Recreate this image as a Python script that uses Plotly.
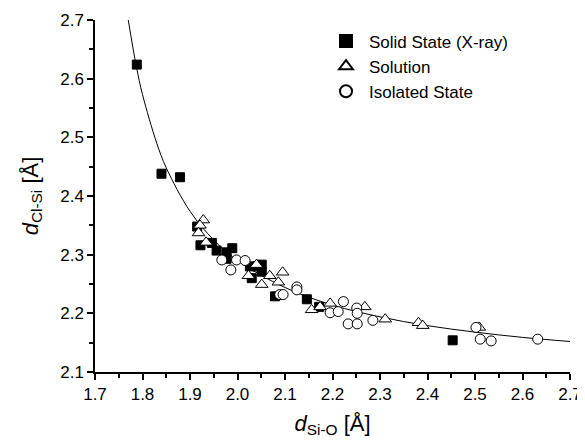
import plotly.graph_objects as go

# Solid State (X-ray)
solid_x = [1.788, 1.840, 1.879, 1.915, 1.922, 1.946, 1.956, 1.977, 1.989, 1.977, 2.026, 2.030,
           2.042, 2.051, 2.051, 2.079, 2.146, 2.172, 2.453]
solid_y = [2.624, 2.438, 2.432, 2.348, 2.316, 2.320, 2.307, 2.304, 2.311, 2.293, 2.280, 2.260,
           2.280, 2.283, 2.271, 2.229, 2.224, 2.211, 2.154]

# Solution
sol_x = [1.928, 1.921, 1.918, 1.934, 2.023, 2.040, 2.051, 2.068, 2.086, 2.095, 2.156, 2.174,
         2.195, 2.268, 2.311, 2.381, 2.390, 2.509]
sol_y = [2.359, 2.350, 2.337, 2.321, 2.264, 2.283, 2.249, 2.264, 2.253, 2.270, 2.206, 2.211,
         2.217, 2.211, 2.190, 2.184, 2.179, 2.176]

# Isolated State
iso_x = [1.967, 1.986, 1.998, 2.016, 2.089, 2.096, 2.125, 2.125, 2.195, 2.212, 2.223, 2.233,
         2.251, 2.252, 2.252, 2.285, 2.502, 2.511, 2.534, 2.632]
iso_y = [2.291, 2.274, 2.291, 2.290, 2.232, 2.232, 2.245, 2.240, 2.201, 2.203, 2.220, 2.182,
         2.209, 2.200, 2.182, 2.188, 2.176, 2.156, 2.153, 2.156]

# Fitted curve
curve_x = [1.770, 1.787, 1.800, 1.830, 1.850, 1.900, 1.950, 2.000, 2.100, 2.200, 2.300, 2.400,
           2.500, 2.600, 2.700]
curve_y = [2.700, 2.621, 2.573, 2.490, 2.448, 2.374, 2.325, 2.290, 2.244, 2.214, 2.194, 2.179,
           2.168, 2.159, 2.152]

x_ticks = [1.7, 1.8, 1.9, 2.0, 2.1, 2.2, 2.3, 2.4, 2.5, 2.6, 2.7]
y_ticks = [2.1, 2.2, 2.3, 2.4, 2.5, 2.6, 2.7]

FONT = "Liberation Sans, Arial, sans-serif"

fig = go.Figure()
fig.add_trace(go.Scatter(x=curve_x, y=curve_y, mode="lines", line=dict(color="black", width=1, shape="spline"),
                         showlegend=False, hoverinfo="skip"))
fig.add_trace(go.Scatter(x=solid_x, y=solid_y, mode="markers", name="Solid State (X-ray)",
                         marker=dict(symbol="square", size=9, color="black", line=dict(color="black", width=1))))
fig.add_trace(go.Scatter(x=sol_x, y=sol_y, mode="markers", name="Solution",
                         marker=dict(symbol="triangle-up", size=11, color="white", line=dict(color="black", width=1))))
fig.add_trace(go.Scatter(x=iso_x, y=iso_y, mode="markers", name="Isolated State",
                         marker=dict(symbol="circle", size=10, color="white", line=dict(color="black", width=1))))

axis_common = dict(showline=True, linecolor="black", linewidth=1.5, ticks="outside", ticklen=6, tickwidth=1.5,
                   tickcolor="black", showgrid=False, zeroline=False, mirror=False, automargin=False,
                   tickfont=dict(family=FONT, size=17, color="black"))

fig.update_xaxes(range=[1.7, 2.7], tickvals=x_ticks, ticktext=[f"{v:.1f}" for v in x_ticks],
                 minor=dict(ticks="outside", ticklen=4, tickwidth=1.5, tickcolor="black", dtick=0.05, tick0=1.7),
                 title=dict(text="<i>d</i><sub>Si-O</sub> [Å]", font=dict(family=FONT, size=22, color="black"), standoff=12),
                 **axis_common)
fig.update_yaxes(range=[2.1, 2.7], tickvals=y_ticks, ticktext=[f"{v:.1f}" for v in y_ticks],
                 minor=dict(ticks="outside", ticklen=4, tickwidth=1.5, tickcolor="black", dtick=0.05, tick0=2.1),
                 title=dict(text="<i>d</i><sub>Cl-Si</sub> [Å]", font=dict(family=FONT, size=22, color="black"), standoff=16),
                 **axis_common)

# page body has an 8px margin, so the figure is sized/offset to compensate
fig.update_layout(width=577, height=437, margin=dict(l=87, r=15, t=12, b=73),
                  plot_bgcolor="white", paper_bgcolor="white",
                  font=dict(family=FONT, color="black"),
                  legend=dict(x=0.48, y=0.99, xanchor="left", yanchor="top", bgcolor="rgba(0,0,0,0)",
                              font=dict(family=FONT, size=17, color="black"), tracegroupgap=0,
                              itemsizing="constant", itemwidth=36))

fig.write_html("out.html")
